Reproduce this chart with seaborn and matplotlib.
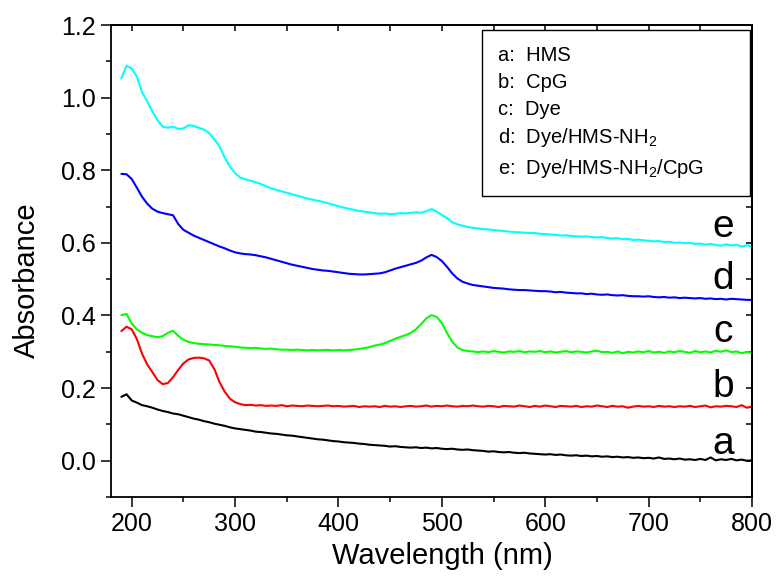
import numpy as np
import pandas as pd
import seaborn as sns
import matplotlib.pyplot as plt
from matplotlib.ticker import MultipleLocator
from matplotlib.lines import Line2D

# wavelength grid (nm), 190 -> 800 in 5 nm steps
wavelength = np.arange(190, 801, 5)

# a: HMS
hms = [
    0.176, 0.183, 0.166, 0.160, 0.153, 0.150, 0.146, 0.141, 0.137, 0.134,
    0.130, 0.128, 0.124, 0.120, 0.116, 0.113, 0.109, 0.106, 0.102, 0.099,
    0.096, 0.092, 0.089, 0.087, 0.085, 0.083, 0.080, 0.079, 0.077, 0.075,
    0.074, 0.072, 0.070, 0.069, 0.067, 0.065, 0.063, 0.061, 0.059, 0.058,
    0.056, 0.054, 0.053, 0.051, 0.050, 0.049, 0.047, 0.046, 0.044, 0.043,
    0.042, 0.041, 0.039, 0.040, 0.038, 0.037, 0.036, 0.037, 0.035, 0.036,
    0.034, 0.035, 0.033, 0.032, 0.033, 0.031, 0.030, 0.031, 0.029, 0.028,
    0.027, 0.025, 0.026, 0.024, 0.023, 0.024, 0.022, 0.021, 0.022, 0.020,
    0.019, 0.018, 0.017, 0.018, 0.016, 0.017, 0.015, 0.014, 0.015, 0.013,
    0.014, 0.012, 0.013, 0.011, 0.012, 0.010, 0.011, 0.009, 0.010, 0.008,
    0.009, 0.007, 0.008, 0.006, 0.009, 0.005, 0.006, 0.004, 0.006, 0.003,
    0.004, 0.002, 0.005, 0.002, 0.009, 0.001, 0.004, 0.002, 0.005, 0.001,
    0.003, 0.000, 0.001,
]

# b: CpG
cpg = [
    0.357, 0.369, 0.362, 0.335, 0.295, 0.265, 0.244, 0.222, 0.211, 0.214,
    0.230, 0.250, 0.268, 0.279, 0.283, 0.284, 0.282, 0.276, 0.252, 0.216,
    0.190, 0.171, 0.161, 0.156, 0.153, 0.154, 0.152, 0.153, 0.151, 0.152,
    0.151, 0.153, 0.150, 0.152, 0.151, 0.150, 0.152, 0.151, 0.150, 0.151,
    0.152, 0.150, 0.151, 0.149, 0.150, 0.151, 0.148, 0.150, 0.149, 0.150,
    0.148, 0.151, 0.149, 0.150, 0.148, 0.150, 0.151, 0.149, 0.150, 0.152,
    0.149, 0.151, 0.150, 0.152, 0.150, 0.149, 0.151, 0.150, 0.152, 0.150,
    0.149, 0.151, 0.150, 0.148, 0.151, 0.150, 0.149, 0.152, 0.150, 0.148,
    0.151, 0.149, 0.152, 0.150, 0.148, 0.151, 0.150, 0.149, 0.151, 0.148,
    0.150, 0.149, 0.152, 0.150, 0.148, 0.151, 0.149, 0.150, 0.146, 0.149,
    0.151, 0.149, 0.150, 0.148, 0.151, 0.149, 0.150, 0.148, 0.150, 0.149,
    0.151, 0.148, 0.150, 0.152, 0.147, 0.150, 0.149, 0.151, 0.150, 0.148,
    0.153, 0.146, 0.149,
]

# c: Dye
dye = [
    0.401, 0.404, 0.378, 0.362, 0.352, 0.346, 0.343, 0.340, 0.343, 0.352,
    0.358, 0.344, 0.333, 0.327, 0.324, 0.322, 0.321, 0.320, 0.319, 0.318,
    0.316, 0.315, 0.314, 0.312, 0.311, 0.310, 0.311, 0.309, 0.308, 0.309,
    0.307, 0.306, 0.306, 0.305, 0.306, 0.305, 0.304, 0.305, 0.304, 0.305,
    0.305, 0.304, 0.305, 0.304, 0.305, 0.306, 0.308, 0.310, 0.313, 0.317,
    0.320, 0.324, 0.330, 0.336, 0.341, 0.346, 0.352, 0.362, 0.376, 0.392,
    0.401, 0.396, 0.379, 0.352, 0.328, 0.312, 0.305, 0.302, 0.301, 0.299,
    0.301, 0.299, 0.302, 0.300, 0.298, 0.301, 0.300, 0.302, 0.299, 0.301,
    0.300, 0.302, 0.299, 0.301, 0.298, 0.300, 0.302, 0.299, 0.301, 0.300,
    0.298, 0.301, 0.303, 0.299, 0.300, 0.297, 0.301, 0.296, 0.300, 0.298,
    0.301, 0.299, 0.302, 0.298, 0.300, 0.297, 0.301, 0.299, 0.302, 0.300,
    0.297, 0.302, 0.299, 0.301, 0.298, 0.303, 0.300, 0.304, 0.299, 0.301,
    0.296, 0.300, 0.297,
]

# d: Dye/HMS-NH2
dye_hms = [
    0.790, 0.789, 0.776, 0.752, 0.727, 0.708, 0.694, 0.686, 0.682, 0.679,
    0.676, 0.652, 0.636, 0.628, 0.620, 0.614, 0.608, 0.602, 0.596, 0.590,
    0.585, 0.579, 0.574, 0.571, 0.569, 0.568, 0.566, 0.563, 0.560, 0.556,
    0.552, 0.548, 0.544, 0.540, 0.537, 0.534, 0.531, 0.528, 0.526, 0.524,
    0.523, 0.521, 0.519, 0.517, 0.515, 0.514, 0.513, 0.513, 0.514, 0.515,
    0.516, 0.519, 0.524, 0.529, 0.533, 0.537, 0.541, 0.545, 0.551, 0.560,
    0.567, 0.561, 0.550, 0.534, 0.516, 0.502, 0.493, 0.488, 0.484, 0.482,
    0.480, 0.478, 0.476, 0.475, 0.474, 0.472, 0.471, 0.470, 0.470, 0.469,
    0.468, 0.467, 0.467, 0.466, 0.464, 0.465, 0.463, 0.462, 0.461, 0.461,
    0.459, 0.460, 0.458, 0.457, 0.458, 0.456, 0.455, 0.456, 0.454, 0.453,
    0.453, 0.452, 0.453, 0.451, 0.450, 0.451, 0.449, 0.450, 0.448, 0.449,
    0.448, 0.447, 0.448, 0.446, 0.447, 0.445, 0.446, 0.444, 0.446, 0.445,
    0.444, 0.443, 0.443,
]

# e: Dye/HMS-NH2/CpG
dye_hms_cpg = [
    1.053, 1.088, 1.080, 1.058, 1.015, 0.990, 0.962, 0.938, 0.920, 0.917,
    0.920, 0.914, 0.915, 0.924, 0.922, 0.917, 0.912, 0.902, 0.885, 0.866,
    0.835, 0.810, 0.792, 0.780, 0.775, 0.771, 0.767, 0.762, 0.756, 0.750,
    0.746, 0.742, 0.738, 0.734, 0.730, 0.726, 0.722, 0.719, 0.716, 0.713,
    0.709, 0.705, 0.701, 0.697, 0.694, 0.691, 0.688, 0.686, 0.684, 0.682,
    0.680, 0.681, 0.679, 0.680, 0.682, 0.681, 0.683, 0.684, 0.683, 0.687,
    0.693, 0.686, 0.677, 0.668, 0.657, 0.651, 0.647, 0.644, 0.641, 0.640,
    0.638, 0.637, 0.635, 0.634, 0.633, 0.631, 0.630, 0.629, 0.628, 0.627,
    0.627, 0.625, 0.624, 0.623, 0.622, 0.620, 0.621, 0.619, 0.618, 0.617,
    0.618, 0.616, 0.615, 0.616, 0.613, 0.612, 0.613, 0.610, 0.611, 0.608,
    0.609, 0.607, 0.606, 0.604, 0.605, 0.602, 0.603, 0.600, 0.601, 0.599,
    0.600, 0.597, 0.598, 0.595, 0.597, 0.594, 0.592, 0.596, 0.593, 0.595,
    0.590, 0.593, 0.591,
]

samples = ["a", "b", "c", "d", "e"]
legend_labels = ["a:  HMS", "b:  CpG", "c:  Dye",
                 "d:  Dye/HMS-NH$_2$", "e:  Dye/HMS-NH$_2$/CpG"]
colors = {"a": "#000000", "b": "#ff0000", "c": "#00ff00",
          "d": "#0000ff", "e": "#00ffff"}
# baseline positions of the letter tags near the right edge
tag_y = [0.019, 0.176, 0.326, 0.474, 0.615]

df = pd.DataFrame({
    "Wavelength": np.tile(wavelength, len(samples)),
    "Absorbance": np.concatenate([hms, cpg, dye, dye_hms, dye_hms_cpg]),
    "sample": np.repeat(samples, len(wavelength)),
})

sns.set_style("ticks")
plt.rcParams["font.family"] = ["Liberation Sans", "DejaVu Sans"]
plt.rcParams["mathtext.default"] = "regular"
plt.rcParams["axes.linewidth"] = 1.3
for key in ["text.color", "axes.labelcolor", "xtick.color", "ytick.color",
            "axes.edgecolor"]:
    plt.rcParams[key] = "black"

fig = plt.figure(figsize=(7.79, 5.82), dpi=100)
ax = fig.add_axes([0.1425, 0.146, 0.8228, 0.811])

sns.lineplot(data=df, x="Wavelength", y="Absorbance", hue="sample",
             palette=colors, linewidth=1.5, estimator=None, legend=False, ax=ax)

ax.set_xlim(180, 800)
ax.set_ylim(-0.1, 1.2)
ax.xaxis.set_major_locator(MultipleLocator(100))
ax.xaxis.set_minor_locator(MultipleLocator(50))
ax.yaxis.set_major_locator(MultipleLocator(0.2))
ax.yaxis.set_minor_locator(MultipleLocator(0.1))
ax.tick_params(which="major", direction="out", length=7.2, width=1.1,
               labelsize=18, pad=3.5)
ax.tick_params(which="minor", direction="out", length=3.6, width=1.1)

top = ax.secondary_xaxis("top")
top.xaxis.set_major_locator(MultipleLocator(50))
top.tick_params(direction="in", length=4, width=1.1, labeltop=False)
right = ax.secondary_yaxis("right")
right.yaxis.set_major_locator(MultipleLocator(0.1))
right.tick_params(direction="in", length=4, width=1.1, labelright=False)

ax.set_xlabel("Wavelength (nm)", fontsize=21)
ax.set_ylabel("Absorbance", fontsize=21)
ax.xaxis.set_label_coords(0.517, -0.095)
ax.yaxis.set_label_coords(-0.109, 0.46)

for s, y in zip(samples, tag_y):
    ax.text(772, y, s, fontsize=28, ha="center", va="baseline")

handles = [Line2D([], [], linestyle="none") for _ in legend_labels]
leg = ax.legend(handles, legend_labels, loc="upper left",
                bbox_to_anchor=(0.579, 0.989, 0.418, 0), mode="expand",
                handlelength=0, handletextpad=0, fontsize=14.5,
                labelspacing=0.38, borderpad=0.8, borderaxespad=0,
                frameon=True, fancybox=False, framealpha=1)
leg.get_frame().set_edgecolor("black")
leg.get_frame().set_linewidth(1.0)

plt.savefig("out.png", dpi=100)
plt.close()
